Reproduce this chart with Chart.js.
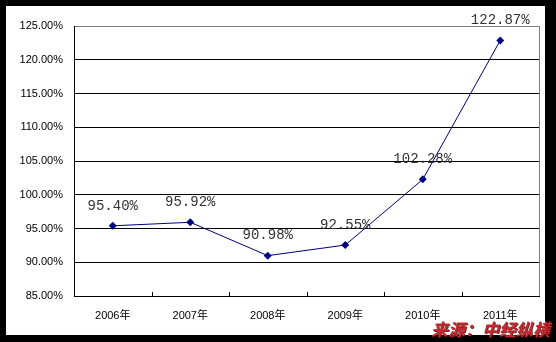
<!DOCTYPE html>
<html lang="zh">
  <head>
    <meta charset="UTF-8" />
    <title>2006-2011</title>
    <script src="https://cdn.jsdelivr.net/npm/chart.js"></script>
    <style>
      body {
        margin: 0;
        padding: 0;
        background-color: #000;
      }

      .chart-box {
        position: relative;
        width: 556px;
        height: 342px;
      }
    </style>
  </head>

  <body>
    <div class="chart-box">
      <canvas id="lineChart"></canvas>
    </div>

    <script>
      const years = ["2006年", "2007年", "2008年", "2009年", "2010年", "2011年"];
      const ratios = [95.4, 95.92, 90.98, 92.55, 102.28, 122.87];
      const yMin = 85;
      const yMax = 125;
      const yStep = 5;
      const sourceText = "来源：中经纵横";

      // black frame with white inner panel
      const framePlugin = {
        id: "frame",
        beforeDraw(chart) {
          const c = chart.ctx;
          c.save();
          c.fillStyle = "#000";
          c.fillRect(0, 0, chart.width, chart.height);
          c.fillStyle = "#fff";
          c.fillRect(6, 6, 539, 329);
          c.restore();
        },
        afterDraw(chart) {
          const c = chart.ctx;
          const area = chart.chartArea;
          const xScale = chart.scales.x;
          c.save();
          // right border of plot area
          c.strokeStyle = "#808080";
          c.lineWidth = 1;
          c.beginPath();
          c.moveTo(Math.round(area.right) + 0.5, area.top);
          c.lineTo(Math.round(area.right) + 0.5, area.bottom);
          c.stroke();
          // small category ticks pointing up from the x axis
          c.strokeStyle = "#000";
          const half = (xScale.getPixelForValue(1) - xScale.getPixelForValue(0)) / 2;
          for (let i = 1; i < years.length; i++) {
            const px = Math.round(xScale.getPixelForValue(i) - half) + 0.5;
            c.beginPath();
            c.moveTo(px, area.bottom - 4);
            c.lineTo(px, area.bottom);
            c.stroke();
          }
          // source note
          c.font = "bold italic 17px 'Noto Sans CJK SC', sans-serif";
          c.textAlign = "right";
          c.textBaseline = "alphabetic";
          c.shadowColor = "rgba(60,0,0,0.8)";
          c.shadowOffsetX = 1;
          c.shadowOffsetY = 1;
          c.fillStyle = "#c8282d";
          c.fillText(sourceText, 550, 336);
          c.restore();
        },
      };

      const valueLabels = {
        id: "valueLabels",
        afterDatasetsDraw(chart) {
          const c = chart.ctx;
          const meta = chart.getDatasetMeta(0);
          c.save();
          c.font = "14px 'Liberation Mono', monospace";
          c.fillStyle = "#333";
          c.textAlign = "center";
          c.textBaseline = "middle";
          meta.data.forEach((pt, i) => {
            c.fillText(ratios[i].toFixed(2) + "%", pt.x, pt.y - 20);
          });
          c.restore();
        },
      };

      const ctx = document.getElementById("lineChart").getContext("2d");

      new Chart(ctx, {
        type: "line",
        data: {
          labels: years,
          datasets: [
            {
              data: ratios,
              borderColor: "#000080",
              borderWidth: 1,
              backgroundColor: "#000080",
              pointStyle: "rectRot",
              pointRadius: 4,
              pointBackgroundColor: "#000080",
              pointBorderWidth: 0,
              tension: 0,
            },
          ],
        },
        options: {
          responsive: true,
          maintainAspectRatio: false,
          animation: false,
          layout: { padding: { top: 26, right: 17, bottom: 0, left: 0 } },
          plugins: {
            legend: { display: false },
            tooltip: { enabled: false },
          },
          scales: {
            x: {
              offset: true,
              afterFit(scale) {
                scale.height = 46;
              },
              grid: { display: false, drawTicks: false },
              border: { display: true, color: "#000", width: 1 },
              ticks: {
                padding: 13,
                color: "#000",
                font: { family: "'Liberation Sans', 'Noto Sans CJK SC'", size: 11 },
              },
            },
            y: {
              min: yMin,
              max: yMax,
              afterFit(scale) {
                scale.width = 74;
              },
              grid: {
                drawTicks: false,
                color: (c) => (c.tick && c.tick.value === yMax ? "#808080" : "#000"),
                lineWidth: 1,
              },
              border: { display: true, color: "#000", width: 1 },
              ticks: {
                stepSize: yStep,
                padding: 11,
                color: "#000",
                font: { family: "'Liberation Sans'", size: 11 },
                callback: (v) => v.toFixed(2) + "%",
              },
            },
          },
        },
        plugins: [framePlugin, valueLabels],
      });
    </script>
  </body>
</html>
